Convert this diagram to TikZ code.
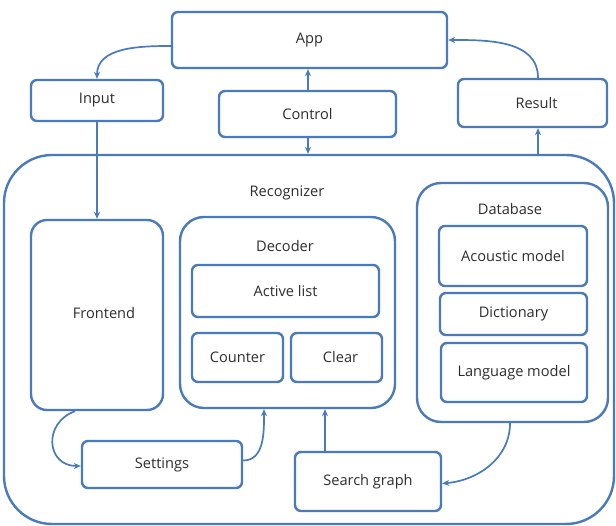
\documentclass[tikz,border=0pt]{standalone}
\usepackage{fontspec}
\setmainfont{Open Sans}
\usetikzlibrary{arrows.meta,calc}
\definecolor{lineblue}{RGB}{72,122,188}
\definecolor{txt}{RGB}{45,45,45}
\tikzset{
  box/.style={draw=lineblue, line width=2.4pt, rounded corners=#1, fill=white, inner sep=0pt, text=txt, font=\fontsize{14.6}{16}\selectfont},
  box/.default=6pt,
  lbl/.style={text=txt, font=\fontsize{14.6}{16}\selectfont, inner sep=0pt},
  arr/.style={draw=lineblue, line width=1.7pt, -{Stealth[length=7pt,width=6pt]}},
}
\begin{document}
\begin{tikzpicture}[x=1pt,y=-1pt]
\useasboundingbox[fill=white] (0,0) rectangle (616,526);
% outer container
\node[box=48pt, minimum width=610pt, minimum height=369pt] (Rec) at (309,339.5) {};
\node[lbl] (RecL) at (287,193) {Recognizer};
% top level
\node[box, minimum width=275pt, minimum height=56pt] (App) at (309.5,40) {App};
\node[box, minimum width=132pt, minimum height=41pt] (Input) at (97,100.5) {Input};
\node[box, minimum width=177pt, minimum height=46pt] (Control) at (307.5,114) {Control};
\node[box, minimum width=149pt, minimum height=48pt] (Result) at (532.5,103) {\hspace*{8pt}Result};
% frontend
\node[box=16pt, minimum width=132pt, minimum height=190pt] (Front) at (97,315) {};
\node[lbl] (FrontL) at (104,313) {Frontend};
% decoder
\node[box=24pt, minimum width=215pt, minimum height=191pt] (Dec) at (287.5,312.5) {};
\node[lbl] (DecL) at (285,246) {Decoder};
\node[box, minimum width=187pt, minimum height=52pt] (Active) at (285.5,291) {Active list};
\node[box, minimum width=91pt, minimum height=49pt] (Counter) at (237.5,357.5) {Counter};
\node[box, minimum width=91pt, minimum height=49pt] (Clear) at (336.5,357.5) {\hspace*{8pt}Clear};
% database
\node[box=24pt, minimum width=191pt, minimum height=239pt] (DB) at (512.5,302.5) {};
\node[lbl] (DBL) at (510,209) {Database};
\node[box, minimum width=148pt, minimum height=60pt] (Acou) at (513,256) {Acoustic model};
\node[box, minimum width=147pt, minimum height=42pt] (Dict) at (513.5,314) {Dictionary};
\node[box, minimum width=146pt, minimum height=59pt] (Lang) at (514,372.5) {Language model};
% bottom
\node[box, minimum width=160pt, minimum height=47pt] (Set) at (162,464.5) {Settings};
\node[box, minimum width=146pt, minimum height=59pt] (Search) at (368,481.5) {Search graph};
% connectors
\draw[arr] ([yshift=-6pt]App.west) to[out=180,in=90] (Input.north);
\draw[arr] ([xshift=5.5pt]Result.north) to[out=90,in=0] (App.east);
\draw[arr] ([xshift=0.5pt]Control.north) -- ([xshift=0.5pt]Control.north |- App.south);
\draw[arr] ([xshift=0.5pt]Control.south) -- ([xshift=0.5pt]Control.south |- Rec.north);
\draw[arr] ([xshift=5.5pt]Result.south |- Rec.north) -- ([xshift=5.5pt]Result.south);
\draw[arr] (Input.south) -- (Front.north);
\draw[arr] ([xshift=-22pt]Front.south) to[out=200,in=180,looseness=1.6] ([yshift=-1.5pt]Set.west);
\draw[arr] ([yshift=4pt]Set.east) to[out=0,in=-90] ([xshift=-23.5pt]Dec.south);
\draw[arr] ([xshift=-43pt]Search.north) -- ([xshift=-43pt]Search.north |- Dec.south);
\draw[arr] ([xshift=-2.5pt]DB.south) to[out=-90,in=5] ([yshift=-2pt]Search.east);
\end{tikzpicture}
\end{document}
